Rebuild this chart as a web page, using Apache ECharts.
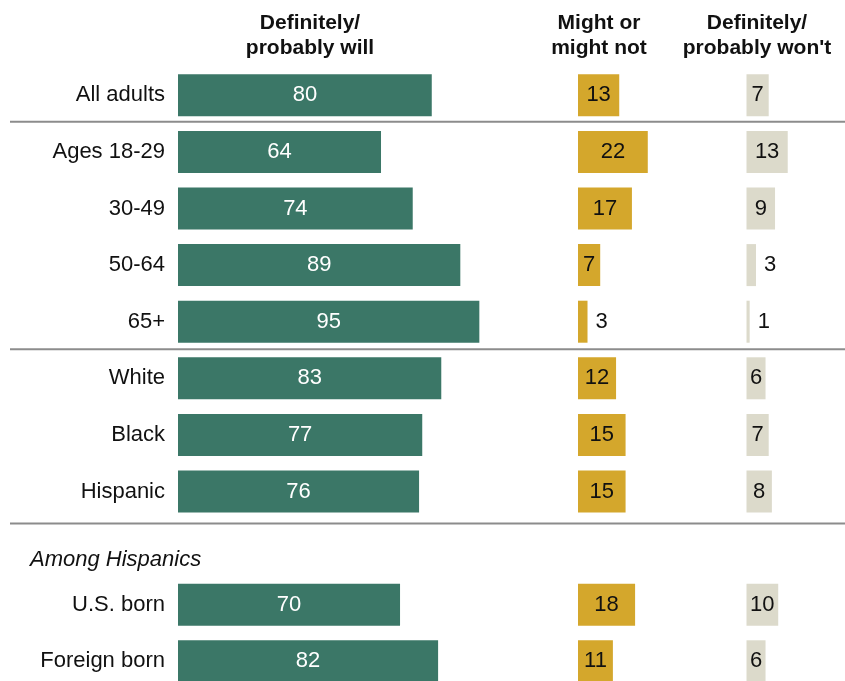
<!DOCTYPE html>
<html><head><meta charset="utf-8">
<script src="https://cdn.jsdelivr.net/npm/echarts@6/dist/echarts.min.js"></script>
<style>html,body{margin:0;padding:0;background:#fff}#c{width:845px;height:681px}</style>
</head><body><div id="c"></div>
<script>
// ---- data ----
const categories = ['All adults', 'Ages 18-29', '30-49', '50-64', '65+', 'White', 'Black', 'Hispanic', '', 'U.S. born', 'Foreign born'];
const willValues = [80, 64, 74, 89, 95, 83, 77, 76, null, 70, 82];
const mightValues = [13, 22, 17, 7, 3, 12, 15, 15, null, 18, 11];
const wontValues = [7, 13, 9, 3, 1, 6, 7, 8, null, 10, 6];
const headers = ['Definitely/\nprobably will', 'Might or\nmight not', "Definitely/\nprobably won't"];
const subgroupLabel = 'Among Hispanics';

// ---- layout ----
const FONT = '"Liberation Sans", Arial, sans-serif';
const PX_PER_UNIT = 3.172;
const TOP = 67, ROW = 56.6;
const HEIGHT = ROW * categories.length;
const cols = [
  {left: 178, max: 100, color: '#3b7767', text: '#ffffff', values: willValues, head: 310},
  {left: 578, max: 30, color: '#d4a72c', text: '#111111', values: mightValues, head: 599},
  {left: 746.5, max: 30, color: '#dcdacb', text: '#111111', values: wontValues, head: 757}
];

const chart = echarts.init(document.getElementById('c'), null, {renderer: 'canvas'});

const grids = cols.map(c => ({left: c.left, top: TOP, width: c.max * PX_PER_UNIT, height: HEIGHT,
  containLabel: false, outerBoundsMode: 'none'}));
const xAxes = cols.map((c, i) => ({gridIndex: i, type: 'value', min: 0, max: c.max, show: false}));
const yAxes = cols.map((c, i) => ({
  gridIndex: i, type: 'category', data: categories, inverse: true,
  axisLine: {show: false}, axisTick: {show: false}, splitLine: {show: false},
  axisLabel: {show: i === 0, fontFamily: FONT, fontSize: 22, color: '#111', margin: 13}
}));
const series = cols.map((c, i) => ({
  type: 'bar', xAxisIndex: i, yAxisIndex: i, barWidth: 42,
  itemStyle: {color: c.color},
  silent: true,
  data: c.values.map(v => v == null ? null : {
    value: v,
    label: {position: (i > 0 && v < 5) ? 'right' : 'inside', distance: 8}
  }),
  label: {show: true, fontFamily: FONT, fontSize: 22, color: c.text,
    formatter: p => p.value == null ? '' : String(p.value)}
}));

const graphic = [];
cols.forEach((c, i) => {
  graphic.push({type: 'text', x: c.head, y: 35.5, style: {
    text: headers[i], fontFamily: FONT, fontWeight: 'bold', fontSize: 21, lineHeight: 25,
    fill: '#111', textAlign: 'center', textVerticalAlign: 'middle'}});
});
[121.7, 349.3, 523.5].forEach(y => {
  graphic.push({type: 'line', shape: {x1: 10, y1: y, x2: 845, y2: y}, style: {stroke: '#8c8c8c', lineWidth: 2}});
});
graphic.push({type: 'text', x: 30, y: 560, style: {
  text: subgroupLabel, fontFamily: FONT, fontStyle: 'italic', fontSize: 22, fill: '#111',
  textAlign: 'left', textVerticalAlign: 'middle'}});

chart.setOption({
  animation: false,
  backgroundColor: '#fff',
  grid: grids, xAxis: xAxes, yAxis: yAxes, series: series, graphic: graphic
});
</script></body></html>
